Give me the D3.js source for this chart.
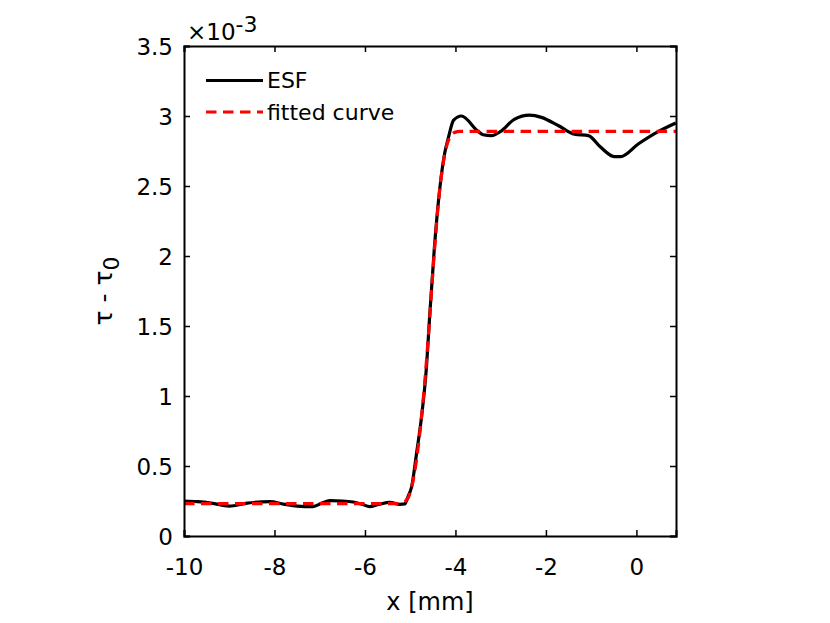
<!DOCTYPE html>
<html>
<head>
<meta charset="utf-8">
<script src="https://cdn.jsdelivr.net/npm/d3@7"></script>
<style>
  body { margin: 0; background: #fff; }
  svg text { font-family: "DejaVu Sans", "Liberation Sans", sans-serif; }
</style>
</head>
<body>
<div id="chart"></div>
<script>
// ESF samples (x in mm, y in units of 1e-3)
const esfX = [-10, -9.7, -9.4, -9.0, -8.6, -8.1, -7.8, -7.5, -7.15, -6.95, -6.78, -6.5, -6.26, -6.05, -5.9, -5.7, -5.45, -5.23, -5.12, -5.05,
  -4.97, -4.86, -4.75, -4.64, -4.57, -4.47, -4.35, -4.24, -4.16, -4.04, -3.87, -3.5, -3.39, -3.2, -3.0, -2.7, -2.36, -2.1, -1.72, -1.37,
  -1.06, -0.8, -0.49, -0.35, 0.04, 0.49, 0.87]
const esfY = [0.25, 0.245, 0.235, 0.214, 0.235, 0.245, 0.228, 0.214, 0.21, 0.235, 0.252, 0.25, 0.243, 0.225, 0.21, 0.225, 0.24, 0.226, 0.229, 0.28,
  0.35, 0.59, 0.85, 1.21, 1.57, 2.04, 2.47, 2.73, 2.84, 2.97, 3.0, 2.89, 2.866, 2.86, 2.89, 2.976, 3.006, 2.99, 2.93, 2.87,
  2.86, 2.78, 2.71, 2.71, 2.80, 2.89, 2.95]

// fitted curve samples
const fitX = [-10, -5.3, -5.2, -5.1, -5.0, -4.9, -4.8, -4.7, -4.6, -4.5, -4.4, -4.3, -4.2, -4.1, -4.0, -3.9, 0.875]
const fitY = [0.231, 0.231, 0.236, 0.25, 0.31, 0.46, 0.70, 1.02, 1.42, 1.88, 2.30, 2.60, 2.78, 2.86, 2.885, 2.89, 2.89]

const xTicks = [-10, -8, -6, -4, -2, 0]
const yTicks = [0, 0.5, 1, 1.5, 2, 2.5, 3, 3.5]
const legendLabels = ["ESF", "fitted curve"]

const esf = esfX.map((x, i) => ({x, y: esfY[i]}))
const fit = fitX.map((x, i) => ({x, y: fitY[i]}))

const dimensions = {
  width: 830,
  height: 623,
  margins: {top: 46, right: 154, bottom: 87, left: 184}
}
dimensions.boundedWidth = dimensions.width - dimensions.margins.left - dimensions.margins.right
dimensions.boundedHeight = dimensions.height - dimensions.margins.top - dimensions.margins.bottom

const wrapper = d3.select("#chart").append("svg")
  .attr("width", dimensions.width)
  .attr("height", dimensions.height)

const bounds = wrapper.append("g")
  .attr("transform", `translate(${dimensions.margins.left},${dimensions.margins.top})`)

const xScale = d3.scaleLinear()
  .domain([-10, 0.875])
  .range([0, dimensions.boundedWidth])

const yScale = d3.scaleLinear()
  .domain([0, 3.5])
  .range([dimensions.boundedHeight, 0])

// clip so lines stay in the box
bounds.append("clipPath").attr("id", "clip")
  .append("rect")
  .attr("width", dimensions.boundedWidth)
  .attr("height", dimensions.boundedHeight)

const line = d3.line()
  .x(d => xScale(d.x))
  .y(d => yScale(d.y))
  .curve(d3.curveMonotoneX)

const plot = bounds.append("g").attr("clip-path", "url(#clip)")

plot.append("path")
  .attr("d", line(esf))
  .attr("fill", "none")
  .attr("stroke", "#000")
  .attr("stroke-width", 3.2)
  .attr("stroke-linejoin", "round")

plot.append("path")
  .attr("d", line(fit))
  .attr("fill", "none")
  .attr("stroke", "#ff0000")
  .attr("stroke-width", 3.2)
  .attr("stroke-dasharray", "10.5,6.5")

// axes: inward ticks on all four sides
const tickLen = 6
const fmt = d => String(d)

const xAxis = bounds.append("g")
  .attr("transform", `translate(0,${dimensions.boundedHeight})`)
  .call(d3.axisBottom(xScale).tickValues(xTicks).tickSize(-tickLen).tickFormat(fmt))
const xAxisTop = bounds.append("g")
  .call(d3.axisTop(xScale).tickValues(xTicks).tickSize(-tickLen).tickFormat(""))
const yAxis = bounds.append("g")
  .call(d3.axisLeft(yScale).tickValues(yTicks).tickSize(-tickLen).tickFormat(fmt))
const yAxisRight = bounds.append("g")
  .attr("transform", `translate(${dimensions.boundedWidth},0)`)
  .call(d3.axisRight(yScale).tickValues(yTicks).tickSize(-tickLen).tickFormat(""))

;[xAxis, xAxisTop, yAxis, yAxisRight].forEach(a => {
  a.select(".domain").attr("stroke-width", 2).attr("stroke", "#000")
  a.selectAll(".tick line").attr("stroke-width", 1.5).attr("stroke", "#000")
  a.selectAll(".tick text")
    .attr("font-size", 23)
    .attr("font-family", "DejaVu Sans")
    .attr("fill", "#000")
})
yAxis.selectAll(".tick text").attr("x", -11).attr("dy", "0.36em")
xAxis.selectAll(".tick text").attr("y", 39).attr("dy", null)

// exponent label
const expo = wrapper.append("text")
  .attr("x", dimensions.margins.left + 3)
  .attr("y", 40)
  .attr("font-size", 23)
  .attr("fill", "#000")
expo.append("tspan").text("×10")
expo.append("tspan").attr("dy", -8).attr("font-size", 22).text("-3")

// axis labels
wrapper.append("text")
  .attr("x", dimensions.margins.left + dimensions.boundedWidth / 2)
  .attr("y", 610)
  .attr("text-anchor", "middle")
  .attr("font-size", 24)
  .attr("fill", "#000")
  .text("x [mm]")

const yLabel = wrapper.append("text")
  .attr("transform", `translate(112,${dimensions.margins.top + dimensions.boundedHeight / 2}) rotate(-90)`)
  .attr("text-anchor", "middle")
  .attr("font-size", 25)
  .attr("fill", "#000")
yLabel.append("tspan").text("τ - τ")
yLabel.append("tspan").attr("dy", 7).attr("font-size", 22).text("0")

// legend
const legend = bounds.append("g").attr("transform", "translate(22,34.5)")
const legendStyles = [
  {stroke: "#000", dash: null},
  {stroke: "#ff0000", dash: "10.5,6.5"}
]
legendLabels.forEach((label, i) => {
  const row = legend.append("g").attr("transform", `translate(0,${i * 31.5})`)
  row.append("line")
    .attr("x1", 0).attr("x2", 57)
    .attr("stroke", legendStyles[i].stroke)
    .attr("stroke-width", 3.2)
    .attr("stroke-dasharray", legendStyles[i].dash)
  row.append("text")
    .attr("x", 61)
    .attr("dy", "0.36em")
    .attr("font-size", 22)
    .attr("fill", "#000")
    .text(label)
})
</script>
</body>
</html>
